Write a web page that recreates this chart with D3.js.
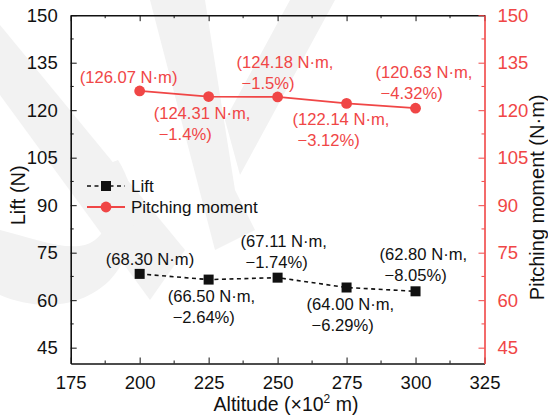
<!DOCTYPE html>
<html>
<head>
<meta charset="utf-8">
<script src="https://cdn.jsdelivr.net/npm/d3@7"></script>
<style>
  html, body { margin: 0; padding: 0; background: #fff; }
  svg { display: block; font-family: "Liberation Sans", Arial, sans-serif; }
</style>
</head>
<body>
<svg id="chart" width="548" height="419"></svg>
<script>
// Altitude in units of 100 m
const altitudes = [200, 225, 250, 275, 300];
const lift = [68.30, 66.50, 67.11, 64.00, 62.80];
const pitchingMoment = [126.07, 124.31, 124.18, 122.14, 120.63];
const liftChange = [null, "−2.64%", "−1.74%", "−6.29%", "−8.05%"];
const momentChange = [null, "−1.4%", "−1.5%", "−3.12%", "−4.32%"];
const xTicks = [175, 200, 225, 250, 275, 300, 325];
const yTicks = [45, 60, 75, 90, 105, 120, 135, 150];

// label placement relative to each marker (first line start, baseline)
const momentLabelPos = [[-60, -8], [-55, 22], [-41, -29], [-54, 22], [-40, -30]];
const liftLabelPos = [[-34, -9], [-41, 22], [-37, -31], [-40, 22], [-36, -31]];

const RED = "#f04646";
const INK = "#111";
const svg = d3.select("#chart");
const m = { left: 70.7, right: 484.5, top: 15.2, bottom: 363.5 };

const x = d3.scaleLinear().domain([175, 325]).range([m.left, m.right]);
const yL = d3.scaleLinear().domain([40, 150]).range([m.bottom, m.top]);
const yR = d3.scaleLinear().domain([40, 150]).range([m.bottom, m.top]);

// faint background strokes
const bg = svg.append("g").attr("fill", "#f2f2f2");
bg.append("path").attr("d", "M0,25 L0,95 L150,300 L185,250 Z");
bg.append("path").attr("d", "M150,0 L205,0 L235,190 L255,230 L215,250 Z");
bg.append("path").attr("d", "M335,0 L290,0 L225,120 L240,175 Z");
bg.append("path").attr("d", "M0,230 C40,240 75,255 95,240 C115,225 110,195 92,170 L118,160 C140,195 142,245 110,280 C80,310 35,310 0,295 Z");

// axes
const minorX = d3.range(187.5, 325, 25);
const minorY = d3.range(52.5, 150, 15);
const TICK_FONT = "18.5px";

const gx = svg.append("g").attr("transform", `translate(0,${m.bottom})`)
  .call(d3.axisBottom(x).tickValues(xTicks).tickSizeInner(-6).tickSizeOuter(0).tickPadding(12).tickFormat(d3.format("d")));
gx.selectAll("text").attr("font-size", TICK_FONT).attr("fill", INK);
gx.selectAll("line").attr("stroke", INK);
gx.select(".domain").attr("stroke", INK).attr("stroke-width", 1.6);
gx.selectAll(".minor").data(minorX).enter().append("line").attr("class", "minor")
  .attr("x1", d => x(d)).attr("x2", d => x(d)).attr("y1", 0).attr("y2", -3).attr("stroke", INK);

const gt = svg.append("g").attr("transform", `translate(0,${m.top})`)
  .call(d3.axisTop(x).tickValues(xTicks).tickSizeInner(-6).tickSizeOuter(0).tickFormat(""));
gt.selectAll("line").attr("stroke", INK);
gt.select(".domain").attr("stroke", INK).attr("stroke-width", 1.6);
gt.selectAll(".minor").data(minorX).enter().append("line").attr("class", "minor")
  .attr("x1", d => x(d)).attr("x2", d => x(d)).attr("y1", 0).attr("y2", 3).attr("stroke", INK);

const gl = svg.append("g").attr("transform", `translate(${m.left},0)`)
  .call(d3.axisLeft(yL).tickValues(yTicks).tickSizeInner(-6).tickSizeOuter(0).tickPadding(13));
gl.selectAll("text").attr("font-size", TICK_FONT).attr("fill", INK);
gl.selectAll("line").attr("stroke", INK);
gl.select(".domain").attr("stroke", INK).attr("stroke-width", 1.6);
gl.selectAll(".minor").data(minorY).enter().append("line").attr("class", "minor")
  .attr("y1", d => yL(d)).attr("y2", d => yL(d)).attr("x1", 0).attr("x2", 3).attr("stroke", INK);

const gr = svg.append("g").attr("transform", `translate(${m.right},0)`)
  .call(d3.axisRight(yR).tickValues(yTicks).tickSizeInner(-6).tickSizeOuter(0).tickPadding(13));
gr.selectAll("text").attr("font-size", TICK_FONT).attr("fill", RED);
gr.selectAll("line").attr("stroke", RED);
gr.select(".domain").attr("stroke", RED).attr("stroke-width", 1.6);
gr.selectAll(".minor").data(minorY).enter().append("line").attr("class", "minor")
  .attr("y1", d => yR(d)).attr("y2", d => yR(d)).attr("x1", 0).attr("x2", -3).attr("stroke", RED);

// axis titles
svg.append("text").attr("x", 286).attr("y", 411)
  .attr("text-anchor", "middle").attr("font-size", "19.5px").attr("fill", INK)
  .html('Altitude (×10<tspan dy="-8" font-size="12px">2</tspan><tspan dy="8"> m</tspan>)');
svg.append("text").attr("transform", `translate(25,${(m.top + m.bottom) / 2 + 6}) rotate(-90)`)
  .attr("text-anchor", "middle").attr("font-size", "20px").attr("fill", INK).text("Lift (N)");
svg.append("text").attr("transform", `translate(544,${(m.top + m.bottom) / 2 + 8}) rotate(-90)`)
  .attr("text-anchor", "middle").attr("font-size", "20px").attr("fill", INK).text("Pitching moment (N·m)");

// series lines
const liftPts = altitudes.map((a, i) => [x(a), yL(lift[i])]);
const momPts = altitudes.map((a, i) => [x(a), yR(pitchingMoment[i])]);
const line = d3.line();

svg.append("path").attr("d", line(momPts)).attr("fill", "none").attr("stroke", RED).attr("stroke-width", 1.8);
svg.append("path").attr("d", line(liftPts)).attr("fill", "none").attr("stroke", INK)
  .attr("stroke-width", 1.6).attr("stroke-dasharray", "4,3.5");

svg.selectAll(".mom").data(momPts).enter().append("circle")
  .attr("cx", d => d[0]).attr("cy", d => d[1]).attr("r", 5.4).attr("fill", RED);
svg.selectAll(".lift").data(liftPts).enter().append("rect")
  .attr("x", d => d[0] - 5).attr("y", d => d[1] - 5).attr("width", 10).attr("height", 10).attr("fill", INK);

// value labels
function addLabels(pts, vals, changes, pos, color) {
  pts.forEach((p, i) => {
    const t = svg.append("text").attr("font-size", "16.6px").attr("fill", color);
    const x0 = p[0] + pos[i][0], y0 = p[1] + pos[i][1];
    if (changes[i] === null) {
      t.append("tspan").attr("x", x0).attr("y", y0).text(`(${vals[i].toFixed(2)} N·m)`);
    } else {
      t.append("tspan").attr("x", x0).attr("y", y0).text(`(${vals[i].toFixed(2)} N·m,`);
      t.append("tspan").attr("x", x0 + 5).attr("y", y0 + 21).text(`${changes[i]})`);
    }
  });
}
addLabels(momPts, pitchingMoment, momentChange, momentLabelPos, RED);
addLabels(liftPts, lift, liftChange, liftLabelPos, INK);

// legend
const lg = svg.append("g");
lg.append("line").attr("x1", 87).attr("x2", 125).attr("y1", 186).attr("y2", 186)
  .attr("stroke", INK).attr("stroke-width", 1.6).attr("stroke-dasharray", "4,3.5");
lg.append("rect").attr("x", 101).attr("y", 181).attr("width", 10).attr("height", 10).attr("fill", INK);
lg.append("text").attr("x", 131).attr("y", 192).attr("font-size", "17px").attr("fill", INK).text("Lift");
lg.append("line").attr("x1", 87).attr("x2", 125).attr("y1", 207).attr("y2", 207)
  .attr("stroke", RED).attr("stroke-width", 1.8);
lg.append("circle").attr("cx", 106).attr("cy", 207).attr("r", 5.4).attr("fill", RED);
lg.append("text").attr("x", 131).attr("y", 213).attr("font-size", "17px").attr("fill", INK).text("Pitching moment");
</script>
</body>
</html>
